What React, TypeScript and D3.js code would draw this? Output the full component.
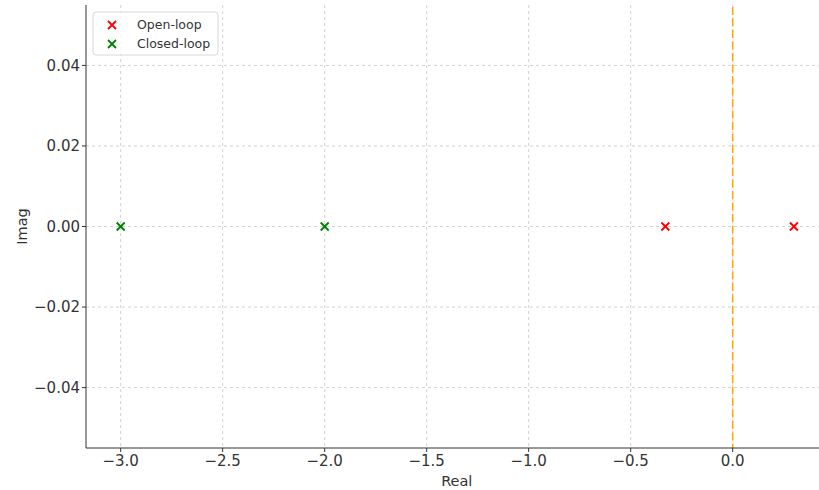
import React from 'react';
import * as d3 from 'd3';

// pole locations
const openLoopReal = [-0.33, 0.3];
const openLoopImag = [0, 0];
const closedLoopReal = [-3.0, -2.0];
const closedLoopImag = [0, 0];
const xTicks = [-3.0, -2.5, -2.0, -1.5, -1.0, -0.5, 0.0];
const yTicks = [-0.04, -0.02, 0.0, 0.02, 0.04];
const legendLabels = ['Open-loop', 'Closed-loop'];
const legendColors = ['#ff0000', '#008000'];

const W = 819;
const H = 490;
const left = 86;
const top = 5;
const bottom = 448;

const fmtNum = (v: number, d: number) => {
  const s = Math.abs(v).toFixed(d);
  return v < -1e-9 ? '\u2212' + s : s;
};

const Cross: React.FC<{ x: number; y: number; color: string }> = ({ x, y, color }) => {
  const r = 4;
  return (
    <path
      d={`M${x - r},${y - r}L${x + r},${y + r}M${x - r},${y + r}L${x + r},${y - r}`}
      stroke={color}
      strokeWidth={1.8}
      fill="none"
    />
  );
};

const App: React.FC = () => {
  const right = left + 3.635 * 204;
  const x = d3.scaleLinear().domain([-3.17, 0.465]).range([left, right]);
  const y = d3.scaleLinear().domain([-0.055, 0.055]).range([bottom, top]);
  const font = 'DejaVu Sans, sans-serif';

  return (
    <svg width={W} height={H} style={{ position: 'absolute', left: 0, top: 0 }}>
      <rect width={W} height={H} fill="#fff" />
      {/* grid */}
      {xTicks.map((t) => (
        <line key={'gx' + t} x1={x(t)} x2={x(t)} y1={top} y2={bottom} stroke="#c8c8c8" strokeWidth={0.8} strokeDasharray="3,3" />
      ))}
      {yTicks.map((t) => (
        <line key={'gy' + t} x1={left} x2={W} y1={y(t)} y2={y(t)} stroke="#c8c8c8" strokeWidth={0.8} strokeDasharray="3,3" />
      ))}
      {/* imaginary axis */}
      <line x1={x(0)} x2={x(0)} y1={top + 2} y2={bottom} stroke="#ffa500" strokeWidth={1.5} strokeDasharray="8,3.5" />
      {/* poles */}
      {openLoopReal.map((r, i) => (
        <Cross key={'o' + i} x={x(r)} y={y(openLoopImag[i])} color={legendColors[0]} />
      ))}
      {closedLoopReal.map((r, i) => (
        <Cross key={'c' + i} x={x(r)} y={y(closedLoopImag[i])} color={legendColors[1]} />
      ))}
      {/* spines */}
      <line x1={left} x2={left} y1={top} y2={bottom} stroke="#333" strokeWidth={1} />
      <line x1={left} x2={W} y1={bottom} y2={bottom} stroke="#333" strokeWidth={1} />
      {/* x ticks */}
      {xTicks.map((t) => (
        <g key={'tx' + t}>
          <line x1={x(t)} x2={x(t)} y1={bottom} y2={bottom + 4} stroke="#333" />
          <text x={x(t)} y={bottom + 18} textAnchor="middle" fontFamily={font} fontSize={15} fill="#333">
            {fmtNum(t, 1)}
          </text>
        </g>
      ))}
      {yTicks.map((t) => (
        <g key={'ty' + t}>
          <line x1={left - 4} x2={left} y1={y(t)} y2={y(t)} stroke="#333" />
          <text x={left - 6} y={y(t)} dy="0.36em" textAnchor="end" fontFamily={font} fontSize={15} fill="#333">
            {fmtNum(t, 2)}
          </text>
        </g>
      ))}
      <text x={(left + right) / 2} y={486} textAnchor="middle" fontFamily={font} fontSize={14.5} fill="#333">
        Real
      </text>
      <text transform={`translate(27,${y(0)}) rotate(-90)`} textAnchor="middle" fontFamily={font} fontSize={14.5} fill="#333">
        Imag
      </text>
      {/* legend */}
      <rect x={93} y={12} width={125} height={43} rx={3} fill="#fff" fillOpacity={0.8} stroke="#d8d8d8" strokeWidth={1} />
      {legendLabels.map((l, i) => (
        <g key={l}>
          <Cross x={112} y={25 + i * 19} color={legendColors[i]} />
          <text x={137} y={25 + i * 19} dy="0.35em" fontFamily={font} fontSize={12.5} fill="#333">
            {l}
          </text>
        </g>
      ))}
    </svg>
  );
};

export default App;
